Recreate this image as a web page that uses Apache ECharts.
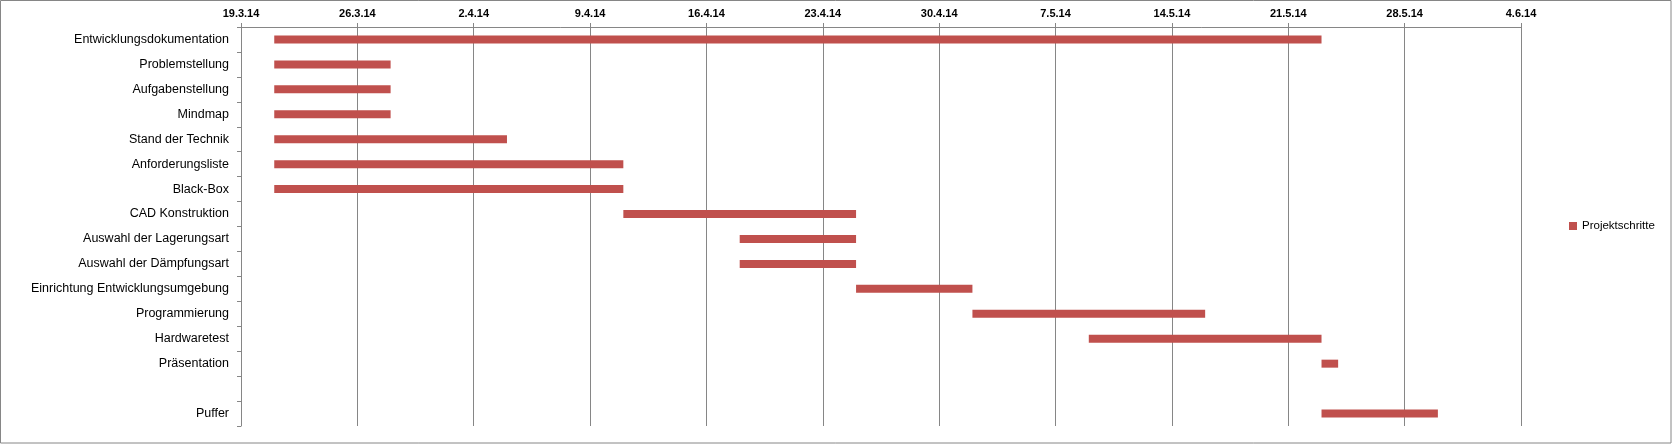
<!DOCTYPE html>
<html>
<head>
<meta charset="utf-8">
<script src="https://cdn.jsdelivr.net/npm/echarts@6/dist/echarts.min.js"></script>
<style>
html,body{margin:0;padding:0;background:#fff;}
#chart{width:1672px;height:444px;}
</style>
</head>
<body>
<div id="chart"></div>
<script>
const baseDate = '2014-03-19';
const categories = ['Entwicklungsdokumentation','Problemstellung','Aufgabenstellung','Mindmap','Stand der Technik','Anforderungsliste','Black-Box','CAD Konstruktion','Auswahl der Lagerungsart','Auswahl der Dämpfungsart','Einrichtung Entwicklungsumgebung','Programmierung','Hardwaretest','Präsentation','','Puffer'];
const startDates = ['2014-03-21','2014-03-21','2014-03-21','2014-03-21','2014-03-21','2014-03-21','2014-03-21','2014-04-11','2014-04-18','2014-04-18','2014-04-25','2014-05-02','2014-05-09','2014-05-23',null,'2014-05-23'];
const endDates = ['2014-05-23','2014-03-28','2014-03-28','2014-03-28','2014-04-04','2014-04-11','2014-04-11','2014-04-25','2014-04-25','2014-04-25','2014-05-02','2014-05-16','2014-05-23','2014-05-24',null,'2014-05-30'];
const tickLabels = ['19.3.14','26.3.14','2.4.14','9.4.14','16.4.14','23.4.14','30.4.14','7.5.14','14.5.14','21.5.14','28.5.14','4.6.14'];
const seriesName = 'Projektschritte';

const DAY = 86400000;
function dayOffset(s){ return s == null ? null : Math.round((Date.parse(s) - Date.parse(baseDate)) / DAY); }
const startOff = startDates.map(dayOffset);
const durations = endDates.map((e, i) => e == null ? null : dayOffset(e) - startOff[i]);

const chart = echarts.init(document.getElementById('chart'));
const gridColor = '#868686';
chart.setOption({
  animation: false,
  backgroundColor: '#ffffff',
  graphic: [{
    type: 'rect', silent: true,
    shape: {x: 0.5, y: 0.5, width: 1670.5, height: 442.5},
    style: {fill: 'none', stroke: gridColor, lineWidth: 1}
  }],
  legend: {
    data: [{name: seriesName, icon: 'rect'}],
    left: 1564, top: 215,
    itemWidth: 8, itemHeight: 8, itemGap: 4,
    textStyle: {fontFamily: 'Liberation Sans', fontSize: 11.5, color: '#000'}
  },
  grid: {left: 241, right: 151, top: 27, bottom: 18, containLabel: false},
  xAxis: {
    type: 'value', position: 'top',
    min: 0, max: 77, interval: 7,
    axisLine: {show: true, lineStyle: {color: gridColor, width: 1}},
    axisTick: {show: true, length: 4, lineStyle: {color: gridColor}},
    splitLine: {show: true, lineStyle: {color: gridColor, width: 1}},
    axisLabel: {
      margin: 8,
      fontFamily: 'Liberation Sans', fontSize: 11, fontWeight: 'bold', color: '#000',
      formatter: v => tickLabels[Math.round(v / 7)] || ''
    }
  },
  yAxis: {
    type: 'category', inverse: true, data: categories,
    axisLine: {show: true, lineStyle: {color: gridColor, width: 1}},
    axisTick: {show: true, length: 4, interval: 0, lineStyle: {color: gridColor}},
    axisLabel: {interval: 0, margin: 12, fontFamily: 'Liberation Sans', fontSize: 12.5, color: '#000'},
    splitLine: {show: false}
  },
  series: [
    {
      name: 'start', type: 'bar', stack: 'gantt', silent: true,
      barWidth: 8,
      itemStyle: {color: 'rgba(0,0,0,0)'},
      data: startOff
    },
    {
      name: seriesName, type: 'bar', stack: 'gantt',
      barWidth: 8,
      itemStyle: {color: '#C0504D'},
      data: durations
    }
  ]
});
</script>
</body>
</html>
